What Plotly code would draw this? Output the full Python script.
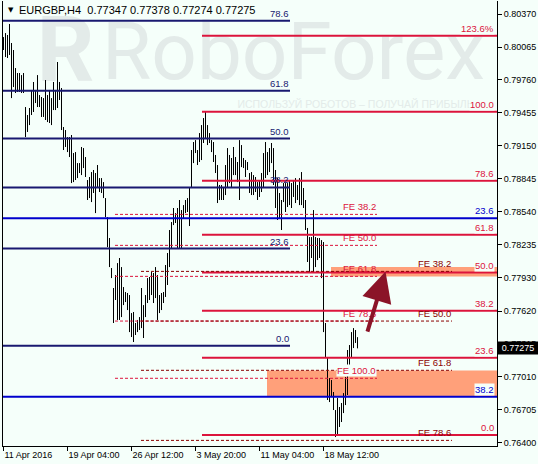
import plotly.graph_objects as go

BG = "#F5FFFA"

# ---------------- data (EURGBP H4) ----------------
highs = [0.80157, 0.80194, 0.80176, 0.80278, 0.80102, 0.80037, 0.79870, 0.79824, 0.79824, 0.79805,
         0.79824, 0.79509, 0.79435, 0.79500, 0.79667, 0.79741, 0.79667, 0.79805, 0.79620, 0.79602,
         0.79592, 0.79759, 0.79620, 0.79667, 0.79592, 0.79741, 0.79667, 0.79926, 0.79741, 0.79685,
         0.79324, 0.79296, 0.79231, 0.79231, 0.79250, 0.79083, 0.79092, 0.78990, 0.78990, 0.79139,
         0.79129, 0.79046, 0.78833, 0.78861, 0.78907, 0.78926, 0.78898, 0.78972, 0.78851, 0.78851,
         0.78814, 0.78666, 0.78490, 0.78296, 0.78018, 0.77833, 0.77953, 0.78064, 0.78111, 0.78027,
         0.77842, 0.77796, 0.77787, 0.77768, 0.77601, 0.77611, 0.77509, 0.77537, 0.77564, 0.77833,
         0.77675, 0.77768, 0.77925, 0.77935, 0.77981, 0.77972, 0.78027, 0.77953, 0.77768, 0.77787,
         0.77796, 0.78046, 0.78157, 0.78370, 0.78444, 0.78574, 0.78527, 0.78574, 0.78648, 0.78555,
         0.78601, 0.78648, 0.78666, 0.78759, 0.79111, 0.79185, 0.79203, 0.79111, 0.79268, 0.79342,
         0.79407, 0.79463, 0.79342, 0.79268, 0.79203, 0.79185, 0.79065, 0.78972, 0.78787, 0.78787,
         0.78768, 0.78972, 0.79129, 0.79065, 0.79037, 0.79139, 0.79046, 0.79000, 0.79203, 0.79157,
         0.79037, 0.79018, 0.79000, 0.78898, 0.78907, 0.78879, 0.78861, 0.78814, 0.78833, 0.78898,
         0.79083, 0.79185, 0.79092, 0.79129, 0.79176, 0.79129, 0.78926, 0.78851, 0.78713, 0.78648,
         0.78805, 0.78805, 0.78805, 0.78833, 0.78805, 0.78833, 0.78851, 0.78787, 0.78851, 0.78907,
         0.78759, 0.78648, 0.78389, 0.78305, 0.78305, 0.78555, 0.78305, 0.78296, 0.78296, 0.78277,
         0.78259, 0.77509, 0.77194, 0.76999, 0.76981, 0.76870, 0.76703, 0.76814, 0.76731, 0.76768,
         0.76860, 0.77009, 0.77259, 0.77305, 0.77425, 0.77462, 0.77444, 0.77378]
lows = [0.80037, 0.79972, 0.79963, 0.79991, 0.79592, 0.79694, 0.79639, 0.79648, 0.79648, 0.79639,
        0.79639, 0.79231, 0.79278, 0.79342, 0.79435, 0.79463, 0.79546, 0.79509, 0.79509, 0.79417,
        0.79417, 0.79389, 0.79370, 0.79361, 0.79342, 0.79481, 0.79481, 0.79500, 0.79574, 0.79296,
        0.79111, 0.79139, 0.79092, 0.79046, 0.78805, 0.78814, 0.78833, 0.78851, 0.78898, 0.78879,
        0.78944, 0.78861, 0.78648, 0.78666, 0.78629, 0.78713, 0.78527, 0.78759, 0.78722, 0.78713,
        0.78666, 0.78490, 0.78212, 0.78027, 0.77925, 0.77509, 0.77722, 0.77537, 0.77537, 0.77564,
        0.77675, 0.77703, 0.77629, 0.77425, 0.77379, 0.77333, 0.77398, 0.77425, 0.77444, 0.77462,
        0.77370, 0.77564, 0.77694, 0.77722, 0.77768, 0.77694, 0.77740, 0.77537, 0.77601, 0.77629,
        0.77694, 0.77750, 0.77861, 0.78027, 0.78203, 0.78416, 0.78435, 0.78203, 0.78203, 0.78203,
        0.78481, 0.78527, 0.78537, 0.78407, 0.78759, 0.78990, 0.79083, 0.78972, 0.79000, 0.79018,
        0.79176, 0.79222, 0.79157, 0.79176, 0.79092, 0.79000, 0.78898, 0.78620, 0.78648, 0.78648,
        0.78648, 0.78694, 0.78759, 0.78805, 0.78759, 0.78879, 0.78879, 0.78814, 0.78648, 0.78953,
        0.78944, 0.78861, 0.78926, 0.78713, 0.78694, 0.78694, 0.78722, 0.78648, 0.78676, 0.78722,
        0.78759, 0.78851, 0.78879, 0.78907, 0.78990, 0.78787, 0.78574, 0.78463, 0.78481, 0.78370,
        0.78629, 0.78537, 0.78583, 0.78601, 0.78574, 0.78676, 0.78620, 0.78648, 0.78601, 0.78601,
        0.78574, 0.78370, 0.78074, 0.77981, 0.78111, 0.77981, 0.78027, 0.78092, 0.78111, 0.77925,
        0.77425, 0.77194, 0.76796, 0.76777, 0.76823, 0.76703, 0.76453, 0.76472, 0.76546, 0.76592,
        0.76675, 0.76749, 0.76842, 0.77092, 0.77194, 0.77277, 0.77324, 0.77274]

header = "EURGBP,H4\u00a0\u00a00.77347 0.77378 0.77274 0.77275"
last_close = 0.77275

x_tick_idx = [0, 32, 64, 96, 128, 160]
x_tick_text = ["11 Apr 2016", "19 Apr 04:00", "26 Apr 12:00", "3 May 20:00", "11 May 04:00", "18 May 12:00"]
y_ticks = [0.80370, 0.80065, 0.79760, 0.79455, 0.79150, 0.78845, 0.78540, 0.78235,
           0.77930, 0.77620, 0.77315, 0.77010, 0.76705, 0.76400]

# Fibonacci retracement (navy), anchored at the left
navy_levels = [0.80308, 0.79660, 0.79217, 0.78764, 0.78199, 0.77298]
navy_labels = ["78.6", "61.8", "50.0", "38.2", "23.6", "0.0"]
# second retracement (blue), full width
blue_levels = [0.78478, 0.76826]
blue_labels = ["23.6", "38.2"]
# third retracement (crimson)
red_levels = [0.80169, 0.79466, 0.78827, 0.78326, 0.77976, 0.77623, 0.77187, 0.76471]
red_labels = ["123.6%", "100.0", "78.6", "61.8", "50.0", "38.2", "23.6", "0.0"]
# Fibonacci expansions
fe_a_levels = [0.78515, 0.78228, 0.77941, 0.77527, 0.76997]
fe_a_labels = ["FE 38.2", "FE 50.0", "FE 61.8", "FE 78.6", "FE 100.0"]
fe_b_levels = [0.77987, 0.77527, 0.77071, 0.76422]
fe_b_labels = ["FE 38.2", "FE 50.0", "FE 61.8", "FE 78.6"]
# target zones: (start bar, top, bottom)
zones = [(131.75, 0.77069, 0.76826), (163.75, 0.78027, 0.77940)]
# arrow (tail bar, tail price, head bar, head price)
arrow = (181.75, 0.77416, 191.0, 0.77985)

# tool anchors along time axis (bar index)
X_MIN, X_MAX = -0.25, 246.75
NAVY_END = 143.25
RED_START = 99.25
FE_A = (55.75, 186.75)
FE_B = (68.75, 224.25)

NAVY = "#191970"
BLUE = "#0000CD"
RED = "#DC143C"
MAROON = "#8B0000"
SALMON = "#FFA07A"
WM = "#E3EBE9"

fig = go.Figure()

# watermark (drawn first so it sits under the bars)
fig.add_trace(go.Scatter(x=[145], y=[0.79950], mode="text", text=["RoboForex"],
                         textfont=dict(family="Roboto", size=80, color=WM),
                         hoverinfo="skip"))
fig.add_trace(go.Scatter(x=[31], y=[0.79960], mode="text", text=["<b>R</b>"],
                         textfont=dict(family="Roboto", size=90, color=WM),
                         hoverinfo="skip"))
fig.add_trace(go.Scatter(x=[176], y=[0.79525], mode="text",
                         text=["ИСПОЛЬЗУЙ РОБОТОВ – ПОЛУЧАЙ ПРИБЫЛЬ"],
                         textfont=dict(family="Liberation Sans", size=10.5, color=WM),
                         hoverinfo="skip"))

# bars (high-low)
bx, by = [], []
for i, (h, l) in enumerate(zip(highs, lows)):
    bx += [i, i, None]
    by += [h, l, None]
fig.add_trace(go.Scatter(x=bx, y=by, mode="lines", line=dict(color="black", width=1),
                         hoverinfo="skip"))

shapes = []
for x0, top, bot in zones:
    shapes.append(dict(type="rect", xref="x", yref="y", x0=x0, x1=X_MAX, y0=bot, y1=top,
                       fillcolor=SALMON, line=dict(width=0), layer="below"))
for lv in navy_levels:
    shapes.append(dict(type="line", xref="x", yref="y", x0=X_MIN, x1=NAVY_END, y0=lv, y1=lv,
                       line=dict(color=NAVY, width=2)))
for lv in blue_levels:
    shapes.append(dict(type="line", xref="x", yref="y", x0=X_MIN, x1=X_MAX, y0=lv, y1=lv,
                       line=dict(color=BLUE, width=2)))
for lv in red_levels:
    shapes.append(dict(type="line", xref="x", yref="y", x0=RED_START, x1=X_MAX, y0=lv, y1=lv,
                       line=dict(color=RED, width=2)))
for lv in fe_a_levels:
    shapes.append(dict(type="line", xref="x", yref="y", x0=FE_A[0], x1=FE_A[1], y0=lv, y1=lv,
                       line=dict(color=RED, width=1, dash="3px,2px")))
for lv in fe_b_levels:
    shapes.append(dict(type="line", xref="x", yref="y", x0=FE_B[0], x1=FE_B[1], y0=lv, y1=lv,
                       line=dict(color=MAROON, width=1, dash="3px,2px")))

ann = []
def lab(x, y, t, color, bg=None):
    d = dict(x=x, y=y, xref="x", yref="y", text=t, showarrow=False, xanchor="right",
             yanchor="bottom", borderpad=0, yshift=1,
             font=dict(family="Liberation Sans", size=9.5, color=color))
    if bg:
        d["bgcolor"] = bg
    ann.append(d)

for lv, t in zip(navy_levels, navy_labels):
    lab(NAVY_END, lv, t, NAVY)
for lv, t in zip(blue_levels, blue_labels):
    lab(X_MAX - 0.8, lv, t, BLUE, BG)
for lv, t in zip(red_levels, red_labels):
    lab(X_MAX - 0.8, lv, t, RED, BG)
for lv, t in zip(fe_a_levels, fe_a_labels):
    lab(FE_A[1], lv, t, RED, BG if t == "FE 100.0" else None)
for lv, t in zip(fe_b_levels, fe_b_labels):
    lab(FE_B[1], lv, t, MAROON)

# arrow
ann.append(dict(x=arrow[2], y=arrow[3], ax=arrow[0], ay=arrow[1], xref="x", yref="y",
                axref="x", ayref="y", text="", showarrow=True, arrowhead=2, arrowsize=1.5,
                arrowwidth=4, arrowcolor="#8B1428"))
# current price
ann.append(dict(x=1, xref="paper", y=last_close, yref="y", text=f"{last_close:.5f}",
                showarrow=False, xanchor="left", yanchor="middle", bgcolor="black",
                borderpad=1, width=38, align="center",
                font=dict(family="Liberation Sans", size=9, color="white")))
# header
ann.append(dict(x=0.0065, y=0.9795, xref="paper", yref="paper", text="\u25bc", showarrow=False,
                xanchor="left", yanchor="middle", font=dict(family="DejaVu Sans", size=7, color="black")))
ann.append(dict(x=0.029, y=0.9795, xref="paper", yref="paper", text=header, showarrow=False,
                xanchor="left", yanchor="middle", font=dict(family="Liberation Sans", size=11, color="black")))

fig.update_layout(width=538, height=464, margin=dict(l=3, r=41, t=1, b=18),
                  paper_bgcolor=BG, plot_bgcolor=BG, showlegend=False,
                  font=dict(family="Liberation Sans", size=9, color="black"),
                  shapes=shapes, annotations=ann)
fig.update_xaxes(range=[X_MIN, X_MAX], showgrid=False, zeroline=False, showline=True,
                 linecolor="black", linewidth=1, ticks="outside", ticklen=4, tickcolor="black",
                 tickvals=x_tick_idx, ticktext=x_tick_text, ticklabelposition="outside right",
                 tickfont=dict(family="Liberation Sans", size=9, color="black"))
fig.update_yaxes(range=[0.76370, 0.80491], side="right", showgrid=False, zeroline=False,
                 showline=True, mirror=True, linecolor="black", linewidth=1, ticks="outside",
                 ticklen=4, tickcolor="black", tickvals=y_ticks,
                 ticktext=[f"{v:.5f}" for v in y_ticks],
                 tickfont=dict(family="Liberation Sans", size=9, color="black"))

fig.write_html("out.html", config={"displayModeBar": False},
               post_script="document.body.style.margin='0px';")
